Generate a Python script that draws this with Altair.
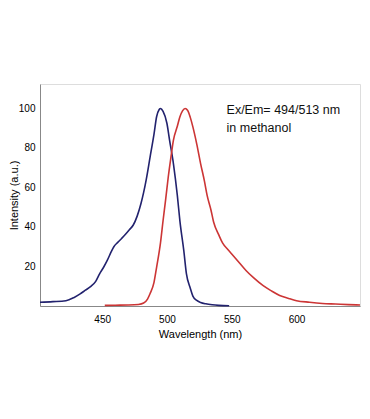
import altair as alt
import pandas as pd

# Excitation (blue) spectrum
ex_wl = [402, 412, 422, 428, 433, 437, 441, 445, 448, 451, 454, 457, 459, 462, 465, 468, 471, 474, 477, 480, 482, 484, 487, 490, 492, 494, 495, 497, 500, 502, 505, 508, 510, 513, 515, 518, 520, 523, 526, 530, 535, 540, 548]
ex_val = [1.9, 2.2, 2.7, 4.2, 6.1, 8.0, 9.8, 12.5, 16.3, 19.5, 23.2, 27.5, 30.0, 32.2, 34.2, 36.3, 38.6, 41.0, 45.5, 52.0, 57.5, 64.0, 75.5, 87.0, 95.8, 99.5, 100, 98.5, 92.4, 84.0, 72.0, 56.0, 43.0, 28.0, 16.4, 9.0, 5.0, 2.8, 1.8, 1.1, 0.6, 0.3, 0.1]

# Emission (red) spectrum
em_wl = [452, 460, 470, 478, 482, 485, 487, 490, 492, 495, 497, 499, 501, 503, 505, 508, 510, 512, 514, 516, 518, 520, 523, 526, 529, 531, 534, 536, 540, 543, 547, 551, 556, 561, 567, 574, 581, 587, 594, 600, 610, 620, 630, 640, 649]
em_val = [0.3, 0.4, 0.5, 0.8, 1.5, 3.5, 6.3, 12.0, 19.6, 32.0, 43.3, 54.0, 65.3, 75.0, 84.0, 91.0, 95.8, 98.8, 100, 99.0, 95.5, 90.7, 82.0, 72.0, 63.0, 56.0, 48.5, 42.5, 36.0, 31.8, 28.6, 25.6, 21.8, 18.0, 14.2, 10.4, 7.5, 5.3, 3.8, 2.7, 1.9, 1.3, 1.0, 0.7, 0.5]

x_ticks = [450, 500, 550, 600]
y_ticks = [20, 40, 60, 80, 100]

notes = ["Ex/Em= 494/513 nm", "in methanol"]
note_x = [546, 546]
note_y = [99.2, 90.0]

df = pd.concat([
    pd.DataFrame({"wl": ex_wl, "val": ex_val, "series": "Excitation"}),
    pd.DataFrame({"wl": em_wl, "val": em_val, "series": "Emission"}),
])
notes_df = pd.DataFrame({"text": notes, "x": note_x, "y": note_y})

x_scale = alt.Scale(domain=[402, 649], nice=False, zero=False)
y_scale = alt.Scale(domain=[0, 112.4], nice=False)

lines = alt.Chart(df).mark_line(strokeWidth=1.6, interpolate="monotone").encode(
    x=alt.X("wl:Q", scale=x_scale,
            axis=alt.Axis(title="Wavelength (nm)", values=x_ticks, ticks=False,
                          labelPadding=8, titlePadding=4, grid=False,
                          titleFontWeight="normal")),
    y=alt.Y("val:Q", scale=y_scale,
            axis=alt.Axis(title="Intensity (a.u.)", values=y_ticks, ticks=False,
                          labelPadding=5, grid=False, titleFontWeight="normal",
                          titleX=-21, titleBaseline="bottom")),
    color=alt.Color("series:N",
                    scale=alt.Scale(domain=["Excitation", "Emission"],
                                    range=["#22226e", "#cc3535"]),
                    legend=None),
    detail="series:N",
)

text = alt.Chart(notes_df).mark_text(align="left", baseline="middle",
                                     fontSize=12.5, font="Liberation Sans",
                                     color="#111111").encode(
    x=alt.X("x:Q", scale=x_scale),
    y=alt.Y("y:Q", scale=y_scale),
    text="text:N",
)

chart = (lines + text).properties(
    width=320, height=222,
    autosize=alt.AutoSizeParams(type="none"),
    padding={"left": 32, "top": 76, "right": 2, "bottom": 80},
).configure_view(
    stroke="#a0a0a0", strokeWidth=1.2
).configure_axis(
    domainColor="#909090",
    labelFont="Liberation Sans", titleFont="Liberation Sans",
    labelFontSize=10.5, titleFontSize=10.5,
    labelColor="#333333", titleColor="#333333",
    titleFontWeight="normal",
).configure(background="white")

chart.save("out.html", embed_options={"renderer": "svg", "actions": False})
